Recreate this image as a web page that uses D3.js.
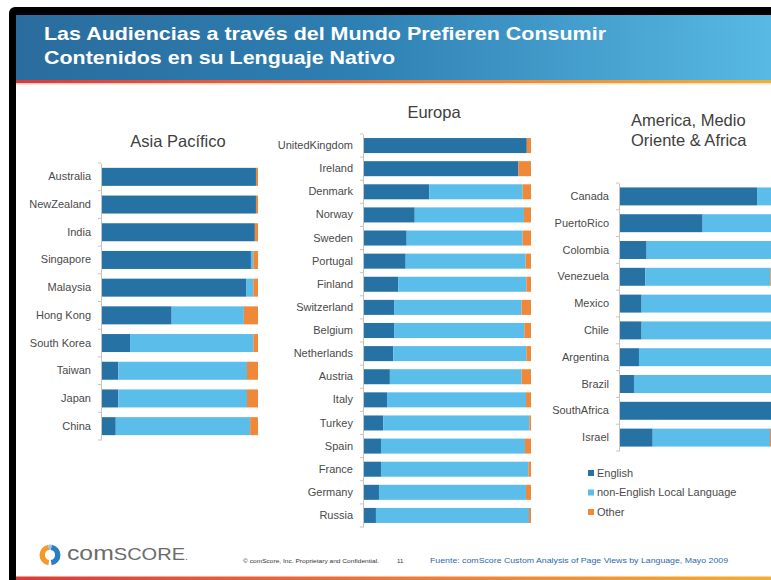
<!DOCTYPE html>
<html>
<head>
<meta charset="utf-8">
<script src="https://cdn.jsdelivr.net/npm/d3@7"></script>
<style>
  html, body { margin: 0; padding: 0; background: #fff; }
  svg { display: block; }
</style>
</head>
<body>
<svg id="chart"></svg>
<script>
// ---- data (percent of page views by language) ----
const keys = ['english', 'local', 'other'];
const legendLabels = ['English', 'non-English Local Language', 'Other'];

const asiaCountries = ['Australia', 'NewZealand', 'India', 'Singapore', 'Malaysia', 'Hong Kong', 'South Korea', 'Taiwan', 'Japan', 'China'];
const asiaEnglish = [98.7, 98.7, 98, 95.5, 92.4, 45, 18.5, 11, 11, 9.4];
const asiaLocal   = [0, 0, 0, 1.5, 4.6, 46, 78.5, 82, 82, 85.6];
const asiaOther   = [1.3, 1.3, 2, 3, 3, 9, 3, 7, 7, 5];

const euroCountries = ['UnitedKingdom', 'Ireland', 'Denmark', 'Norway', 'Sweden', 'Portugal', 'Finland', 'Switzerland', 'Belgium', 'Netherlands', 'Austria', 'Italy', 'Turkey', 'Spain', 'France', 'Germany', 'Russia'];
const euroEnglish = [97.5, 92.5, 39.5, 30.8, 26, 25.4, 21, 18.5, 18.5, 18, 16, 14.3, 12, 10.7, 10.7, 9.5, 7.7];
const euroLocal   = [0, 0, 55.5, 65, 69, 71.4, 76.2, 75.9, 77.5, 79.2, 78.4, 82.7, 87, 85.7, 87.7, 87.5, 91.1];
const euroOther   = [2.5, 7.5, 5, 4.2, 5, 3.2, 2.8, 5.6, 4, 2.8, 5.6, 3, 1, 3.6, 1.6, 3, 1.2];

const ameCountries = ['Canada', 'PuertoRico', 'Colombia', 'Venezuela', 'Mexico', 'Chile', 'Argentina', 'Brazil', 'SouthAfrica', 'Israel'];
const ameEnglish = [88.5, 53.6, 17.7, 16.9, 14.5, 14.5, 12.8, 9.6, 98, 21.6];
const ameLocal   = [10.5, 44.4, 80.3, 80.1, 83.5, 83.5, 85.2, 88.4, 0, 75.2];
const ameOther   = [1, 2, 2, 3, 2, 2, 2, 2, 2, 3.2];

const colors = { english: '#2672a4', local: '#5bbde9', other: '#f0883a' };

const W = 771, H = 580;
const svg = d3.select('#chart').attr('width', W).attr('height', H);
const defs = svg.append('defs');

const bannerGrad = defs.append('linearGradient').attr('id', 'banner');
bannerGrad.append('stop').attr('offset', '0%').attr('stop-color', '#2a6c9d');
bannerGrad.append('stop').attr('offset', '45%').attr('stop-color', '#2e7fb2');
bannerGrad.append('stop').attr('offset', '100%').attr('stop-color', '#58b9e4');

const lineGrad = defs.append('linearGradient').attr('id', 'stripe');
lineGrad.append('stop').attr('offset', '0%').attr('stop-color', '#d93b3b');
lineGrad.append('stop').attr('offset', '50%').attr('stop-color', '#ec7a38');
lineGrad.append('stop').attr('offset', '100%').attr('stop-color', '#f3ad35');

// slide frame
svg.append('rect').attr('x', 9).attr('y', 7).attr('width', 820).attr('height', 620).attr('rx', 6).attr('fill', '#000');
svg.append('rect').attr('x', 16).attr('y', 15).attr('width', 820).attr('height', 620).attr('fill', '#fff');

// title banner
svg.append('rect').attr('x', 16).attr('y', 15).attr('width', W - 16).attr('height', 66).attr('fill', 'url(#banner)');
svg.append('rect').attr('x', 16).attr('y', 80).attr('width', W - 16).attr('height', 3).attr('fill', 'url(#stripe)');
svg.append('rect').attr('x', 16).attr('y', 83).attr('width', W - 16).attr('height', 1.5).attr('fill', 'url(#stripe)').attr('opacity', 0.3);

const titleFont = '"Liberation Sans Narrow", "Arial Narrow", "Liberation Sans", Arial, sans-serif';
svg.append('text').attr('x', 44).attr('y', 39.5)
  .attr('fill', '#fff').attr('font-family', titleFont).attr('font-size', 19).attr('font-weight', 'bold')
  .attr('textLength', 562).attr('lengthAdjust', 'spacingAndGlyphs')
  .text('Las Audiencias a través del Mundo Prefieren Consumir');
svg.append('text').attr('x', 44).attr('y', 64)
  .attr('fill', '#fff').attr('font-family', titleFont).attr('font-size', 19).attr('font-weight', 'bold')
  .attr('textLength', 351).attr('lengthAdjust', 'spacingAndGlyphs')
  .text('Contenidos en su Lenguaje Nativo');

const labelFont = '"Liberation Sans", Arial, sans-serif';

function drawPanel(p) {
  const rows = p.countries.map((c, i) => ({ country: c, english: p.english[i], local: p.local[i], other: p.other[i] }));
  const y = d3.scaleBand().domain(p.countries).range([p.top, p.bottom])
    .paddingInner(p.pad).paddingOuter(p.pad / 2);
  const x = d3.scaleLinear().domain([0, 100]).range([p.left, p.left + p.width]);
  const series = d3.stack().keys(keys)(rows);

  const g = svg.append('g');
  g.selectAll('g.layer')
    .data(series)
    .join('g')
    .attr('class', 'layer')
    .attr('fill', d => colors[d.key])
    .selectAll('rect')
    .data(d => d)
    .join('rect')
    .attr('x', d => x(d[0]))
    .attr('y', d => y(d.data.country))
    .attr('width', d => x(d[1]) - x(d[0]))
    .attr('height', y.bandwidth());

  const axis = g.append('g')
    .attr('transform', `translate(${p.left},0)`)
    .call(d3.axisLeft(y).tickSize(0).tickSizeOuter(0).tickPadding(10));
  axis.select('.domain').attr('stroke', '#c4c4c4');
  axis.selectAll('text')
    .attr('font-family', labelFont).attr('font-size', 11).attr('fill', '#4a4a4a');

  // small ticks between categories
  g.selectAll('line.sep')
    .data(d3.range(p.countries.length + 1))
    .join('line')
    .attr('class', 'sep')
    .attr('x1', p.left - 3).attr('x2', p.left)
    .attr('y1', i => p.top + i * y.step()).attr('y2', i => p.top + i * y.step())
    .attr('stroke', '#c4c4c4');

  p.title.forEach((t, i) => {
    g.append('text')
      .attr('x', p.titleX).attr('y', p.titleY + i * 20)
      .attr('text-anchor', p.titleAnchor)
      .attr('font-family', labelFont).attr('font-size', 16.5).attr('fill', '#404040')
      .text(t);
  });
}

drawPanel({
  countries: asiaCountries, english: asiaEnglish, local: asiaLocal, other: asiaOther,
  left: 101, width: 157, top: 163, bottom: 440, pad: 0.35,
  title: ['Asia Pacífico'], titleX: 178, titleY: 147, titleAnchor: 'middle'
});
drawPanel({
  countries: euroCountries, english: euroEnglish, local: euroLocal, other: euroOther,
  left: 363, width: 168, top: 134, bottom: 527, pad: 0.35,
  title: ['Europa'], titleX: 434, titleY: 118, titleAnchor: 'middle'
});
drawPanel({
  countries: ameCountries, english: ameEnglish, local: ameLocal, other: ameOther,
  left: 619, width: 156, top: 183, bottom: 451, pad: 0.33,
  title: ['America, Medio', 'Oriente & Africa'], titleX: 631, titleY: 126, titleAnchor: 'start'
});

// legend
const legend = svg.append('g').attr('transform', 'translate(588,475)');
keys.forEach((k, i) => {
  legend.append('rect').attr('x', 0).attr('y', i * 19.5 - 5).attr('width', 6).attr('height', 6).attr('fill', colors[k]);
  legend.append('text').attr('x', 9).attr('y', i * 19.5 + 1.5)
    .attr('font-family', labelFont).attr('font-size', 11).attr('fill', '#4a4a4a')
    .text(legendLabels[i]);
});

// footer
svg.append('rect').attr('x', 16).attr('y', 576.5).attr('width', W - 16).attr('height', 3.5).attr('fill', 'url(#stripe)');

const logo = svg.append('g').attr('transform', 'translate(50,555)');
const arc = d3.arc().innerRadius(5).outerRadius(10.5);
logo.append('path').attr('d', arc({ startAngle: Math.PI * 1.05, endAngle: Math.PI * 1.95 })).attr('fill', '#f39a2c');
logo.append('path').attr('d', arc({ startAngle: Math.PI * 0.05, endAngle: Math.PI * 0.95 })).attr('fill', '#2a7fc0');
logo.append('path').attr('d', arc({ startAngle: -Math.PI * 0.05, endAngle: Math.PI * 0.05 })).attr('fill', '#9cc8e6');

const brand = svg.append('text').attr('x', 67).attr('y', 559.5)
  .attr('font-family', labelFont).attr('fill', '#6b6b6b')
  .attr('textLength', 121).attr('lengthAdjust', 'spacingAndGlyphs');
brand.append('tspan').attr('font-size', 21).text('com');
brand.append('tspan').attr('font-size', 17).text('SCORE');
brand.append('tspan').attr('font-size', 9).text('.');

svg.append('text').attr('x', 243).attr('y', 563)
  .attr('font-family', labelFont).attr('font-size', 6).attr('fill', '#333')
  .attr('textLength', 136).attr('lengthAdjust', 'spacingAndGlyphs')
  .text('© comScore, Inc.  Proprietary and Confidential.');
svg.append('text').attr('x', 397).attr('y', 563)
  .attr('font-family', labelFont).attr('font-size', 6).attr('fill', '#333')
  .text('11');
svg.append('text').attr('x', 430).attr('y', 563)
  .attr('font-family', labelFont).attr('font-size', 8).attr('fill', '#2d6aa8')
  .attr('textLength', 298).attr('lengthAdjust', 'spacingAndGlyphs')
  .text('Fuente: comScore Custom Analysis of Page Views by Language,  Mayo 2009');
</script>
</body>
</html>
